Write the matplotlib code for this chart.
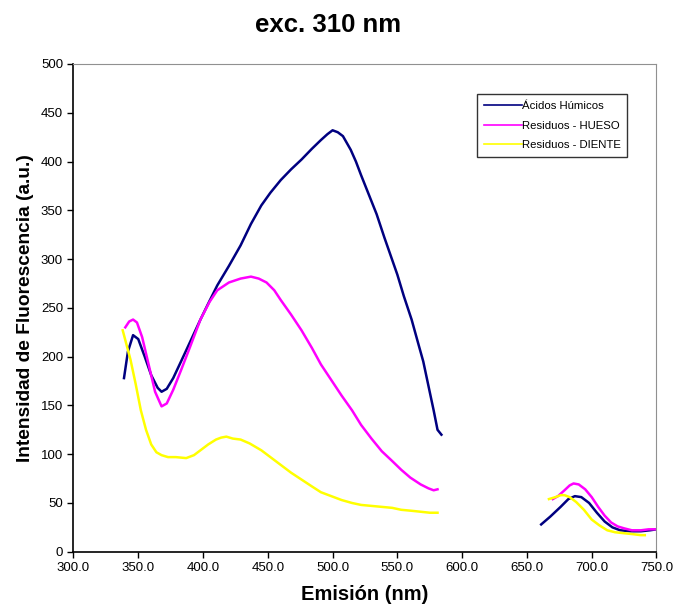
import matplotlib.pyplot as plt

plt.rcParams['font.family'] = ['Liberation Sans', 'DejaVu Sans']

# Acidos Humicos (two measured ranges)
ah_x1 = [339, 342, 346, 350, 355, 360, 365, 368, 372, 377, 383, 390, 398, 405, 411,
         420, 429, 437, 445, 452, 460, 468, 476, 484, 491, 496, 500, 504, 508, 514,
         518, 522, 528, 534, 540, 545, 550, 555, 561, 566, 570, 574, 578, 581, 584]
ah_y1 = [178, 205, 222, 218, 200, 181, 168, 164, 167, 178, 195, 215, 238, 257, 273,
         293, 314, 336, 355, 368, 381, 392, 402, 413, 422, 428, 432, 430, 426, 412,
         400, 386, 366, 346, 322, 303, 284, 262, 238, 214, 195, 170, 145, 125, 120]
ah_x2 = [661, 668, 676, 682, 687, 692, 698, 704, 710, 716, 722, 730, 738, 745, 750]
ah_y2 = [28, 36, 46, 54, 57, 56, 50, 40, 31, 25, 22, 21, 21, 22, 23]

# Residuos - HUESO
hu_x1 = [340, 343, 346, 349, 353, 358, 363, 368, 372, 377, 383, 390, 398, 405, 411,
         420, 429, 437, 443, 449, 455, 460, 468, 476, 484, 491, 499, 507, 515, 522,
         530, 538, 546, 553, 560, 568, 574, 578, 581]
hu_y1 = [230, 236, 238, 235, 220, 192, 164, 149, 152, 166, 186, 210, 238, 256, 268,
         276, 280, 282, 280, 276, 268, 258, 243, 227, 209, 192, 176, 160, 145, 130,
         116, 103, 93, 84, 76, 69, 65, 63, 64]
hu_x2 = [670, 674, 679, 683, 686, 690, 695, 700, 705, 710, 715, 720, 725, 731, 738, 744, 749]
hu_y2 = [54, 57, 63, 68, 70, 69, 64, 56, 46, 37, 30, 26, 24, 22, 22, 23, 23]

# Residuos - DIENTE
di_x1 = [338, 341, 344, 348, 352, 356, 360, 364, 368, 373, 379, 387, 393, 398, 404,
         410, 414, 418, 423, 429, 436, 445, 452, 460, 468, 476, 484, 491, 499, 507,
         515, 522, 530, 538, 546, 553, 561, 568, 575, 581]
di_y1 = [227, 212, 197, 172, 145, 125, 110, 102, 99, 97, 97, 96, 99, 104, 110,
         115, 117, 118, 116, 115, 111, 104, 97, 89, 81, 74, 67, 61, 57, 53,
         50, 48, 47, 46, 45, 43, 42, 41, 40, 40]
di_x2 = [667, 672, 676, 679, 683, 688, 694, 700, 706, 712, 718, 725, 732, 738, 741]
di_y2 = [54, 56, 58, 58, 56, 51, 43, 33, 27, 22, 20, 19, 18, 17, 17]

series_names = ['Ácidos Húmicos', 'Residuos - HUESO', 'Residuos - DIENTE']
series_colors = ['#000080', '#FF00FF', '#FFFF00']

fig = plt.figure(figsize=(6.74, 6.09), dpi=100)
ax = fig.add_axes([0.109, 0.094, 0.865, 0.801])

ax.plot(ah_x1, ah_y1, color=series_colors[0], lw=1.8, label=series_names[0])
ax.plot(ah_x2, ah_y2, color=series_colors[0], lw=1.8)
ax.plot(hu_x1, hu_y1, color=series_colors[1], lw=1.8, label=series_names[1])
ax.plot(hu_x2, hu_y2, color=series_colors[1], lw=1.8)
ax.plot(di_x1, di_y1, color=series_colors[2], lw=1.8, label=series_names[2])
ax.plot(di_x2, di_y2, color=series_colors[2], lw=1.8)

ax.set_xlim(300, 750)
ax.set_ylim(0, 500)
xt = list(range(300, 751, 50))
ax.set_xticks(xt)
ax.set_xticklabels([f'{v:.1f}' for v in xt])
ax.set_yticks(range(0, 501, 50))
ax.tick_params(labelsize=9.5, direction='out', length=4, width=1)

for s in ['top', 'right']:
    ax.spines[s].set_color('#909090')
for s in ['left', 'bottom']:
    ax.spines[s].set_linewidth(1.2)

ax.set_xlabel('Emisión (nm)', fontsize=14.5, fontweight='bold', labelpad=8)
ax.set_ylabel('Intensidad de Fluorescencia (a.u.)', fontsize=13.8, fontweight='bold', labelpad=5)
fig.suptitle('exc. 310 nm', fontsize=18.5, fontweight='bold', x=0.486, y=0.978)

leg = ax.legend(loc='upper right', bbox_to_anchor=(0.950, 0.938), fontsize=8.2,
                frameon=True, fancybox=False, handlelength=3.3, handletextpad=0.0,
                borderpad=0.6, labelspacing=0.85, borderaxespad=0)
leg.get_frame().set_edgecolor('black')
leg.get_frame().set_linewidth(1.0)
for ln in leg.get_lines():
    ln.set_linewidth(1.2)

fig.savefig('out.png', dpi=100)
